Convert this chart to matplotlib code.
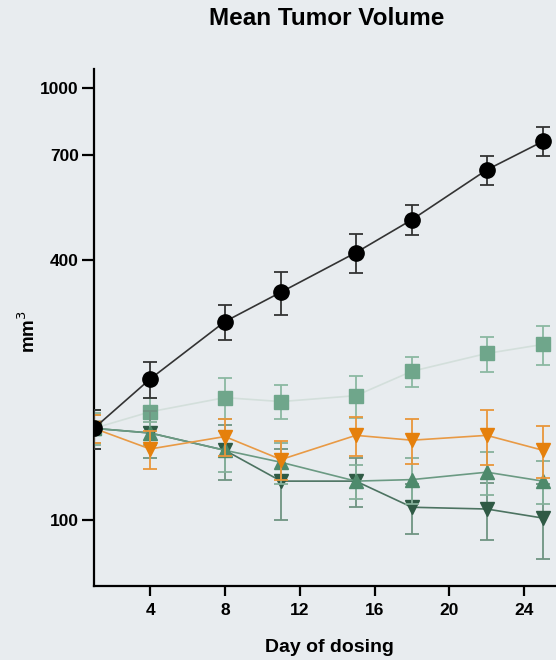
import matplotlib.pyplot as plt
from matplotlib.ticker import FixedLocator, NullLocator

# Tagesdaten und Mittelwerte (mm3) mit SEM
days = [1, 4, 8, 11, 15, 18, 22, 25]

vehicle = [163, 212, 288, 337, 416, 496, 647, 753]
vehicle_err = [17, 20, 27, 38, 43, 40, 49, 58]

grp_square = [163, 178, 192, 188, 194, 221, 243, 255]
grp_square_err = [12, 14, 21, 17, 22, 18, 23, 27]

grp_orange = [163, 146, 156, 138, 157, 153, 157, 145]
grp_orange_err = [12, 15, 15, 14, 16, 18, 23, 20]

grp_up = [163, 159, 145, 136, 123, 124, 129, 123]
grp_up_err = [14, 10, 16, 15, 11, 15, 15, 14]

grp_down = [163, 159, 145, 123, 123, 107, 106, 101]
grp_down_err = [17, 20, 21, 23, 16, 14, 16, 20]

yticks = [100, 400, 700, 1000]
xticks = [4, 8, 12, 16, 20, 24]

bg = "#e8ecef"
font = ["Liberation Sans", "DejaVu Sans"]

fig = plt.figure(figsize=(5.56, 6.6), dpi=100, facecolor=bg)
ax = fig.add_axes([0.169, 0.1121, 0.831, 0.7834], facecolor=bg)

def serie(y, err, marker, ms, mfc, lc, ec, z):
    ax.errorbar(days, y, yerr=err, fmt="none", ecolor=ec, elinewidth=1.3,
                capsize=5, capthick=1.3, zorder=z)
    ax.plot(days, y, color=lc, lw=1.2, zorder=z + 0.1)
    ax.plot(days, y, linestyle="none", marker=marker, ms=ms, mfc=mfc,
            mec=mfc, zorder=z + 0.2)

serie(grp_square, grp_square_err, "s", 10, "#6fa68b", "#d3dfdb", "#8cb8a2", 2)
serie(grp_down, grp_down_err, "v", 10.5, "#2f5a45", "#4c7361", "#6f9482", 3)
serie(grp_up, grp_up_err, "^", 10.5, "#4e8a6c", "#6b9a83", "#86b19b", 4)
serie(grp_orange, grp_orange_err, "v", 10.5, "#e5800c", "#e89a45", "#e8963a", 5)
serie(vehicle, vehicle_err, "o", 11, "black", "#333333", "#333333", 6)

ax.set_yscale("log")
ax.set_ylim(70.3, 1108)
ax.set_xlim(1, 25.7)
ax.yaxis.set_major_locator(FixedLocator(yticks))
ax.yaxis.set_minor_locator(NullLocator())
ax.set_yticklabels([str(t) for t in yticks])
ax.set_xticks(xticks)

for s in ["top", "right"]:
    ax.spines[s].set_visible(False)
for s in ["left", "bottom"]:
    ax.spines[s].set_linewidth(1.6)

ax.tick_params(axis="y", length=9, width=1.6, pad=2)
ax.tick_params(axis="x", length=7.5, width=1.6, pad=5)
for lab in ax.get_xticklabels() + ax.get_yticklabels():
    lab.set_family(font)
    lab.set_fontweight("bold")
    lab.set_fontsize(12.5)

fig.text(0.588, 0.972, "Mean Tumor Volume", ha="center", va="center",
         fontsize=17.5, fontweight="bold", family=font)
fig.text(0.593, 0.019, "Day of dosing", ha="center", va="center",
         fontsize=14, fontweight="bold", family=font)
fig.text(0.05, 0.498, "mm$^3$", ha="center", va="center", rotation=90,
         fontsize=13.5, fontweight="bold", family=font)

fig.savefig("out.png", dpi=100, facecolor=bg)
